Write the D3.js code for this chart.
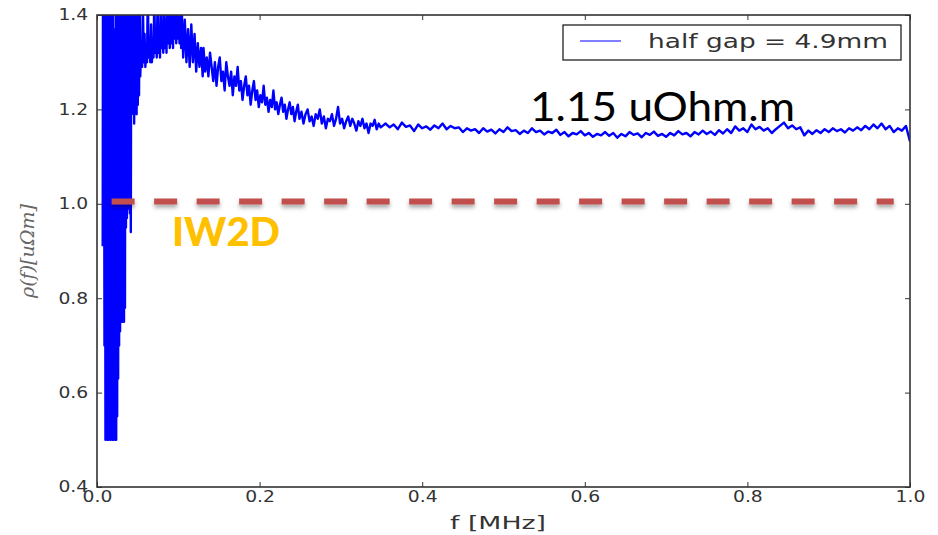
<!DOCTYPE html>
<html><head><meta charset="utf-8">
<script src="https://cdn.jsdelivr.net/npm/d3@7"></script>
<style>body{margin:0;background:#fff}</style>
</head><body>
<svg id="chart" width="938" height="535"></svg>
<script>
// ---------- data ----------
const xTickValues = [0.0, 0.2, 0.4, 0.6, 0.8, 1.0];
const yTickValues = [0.4, 0.6, 0.8, 1.0, 1.2, 1.4];
const xLabel = "f [MHz]";
const yLabel = "ρ(f)[uΩm]";
const seriesName = "half gap = 4.9mm";
const iw2dLevel = 1.005;            // IW2D resistivity [uOhm.m]
const iw2dRange = [0.018, 0.98];    // MHz span of the dashed reference
const iw2dLabel = "IW2D";
const fitLabel = "1.15 uOhm.m";
// [f (MHz), rho (uOhm.m)]
const halfGap49mm = [
 [0.0070,0.91],[0.0074,1.55],[0.0080,0.92],[0.0086,1.50],[0.0092,0.70],[0.0098,1.52],
 [0.0104,0.50],[0.0110,1.48],[0.0116,0.51],[0.0122,1.55],[0.0128,0.50],[0.0134,1.46],
 [0.0140,0.50],[0.0146,1.50],[0.0152,0.52],[0.0158,1.47],[0.0164,0.50],[0.0170,1.53],
 [0.0176,0.51],[0.0182,1.49],[0.0188,0.50],[0.0194,1.52],[0.0200,0.50],[0.0206,1.36],
 [0.0212,0.51],[0.0218,1.37],[0.0224,0.50],[0.0230,1.50],[0.0236,0.50],[0.0242,1.45],
 [0.0248,0.55],[0.0254,1.52],[0.0260,0.63],[0.0266,1.48],[0.0272,0.70],[0.0278,1.50],
 [0.0284,0.73],[0.0290,1.55],[0.0296,0.75],[0.0302,1.47],[0.0308,0.75],[0.0314,1.52],
 [0.0320,0.76],[0.0326,1.50],[0.0332,0.75],[0.0338,1.48],[0.0344,0.78],[0.0350,1.53],
 [0.0356,0.95],[0.0362,1.49],[0.0368,0.97],[0.0374,1.52],[0.0380,0.99],[0.0386,1.46],
 [0.0392,1.01],[0.0398,1.50],[0.0404,0.98],[0.0410,1.48],[0.0416,0.94],[0.0422,1.51],
 [0.0428,1.19],[0.0435,1.50],[0.0442,1.20],[0.0450,1.46],[0.0457,1.17],[0.0465,1.48],
 [0.0472,1.22],[0.0480,1.45],[0.0487,1.19],[0.0495,1.50],[0.0502,1.21],[0.0510,1.44],
 [0.0517,1.23],[0.0525,1.47],[0.0532,1.27],
 [0.0545,1.34],[0.0555,1.29],[0.0565,1.42],[0.0575,1.30],[0.0585,1.36],[0.0595,1.29],
 [0.0605,1.33],[0.0615,1.30],[0.0625,1.45],[0.0635,1.31],[0.0645,1.35],[0.0655,1.30],
 [0.0665,1.38],[0.0675,1.30],[0.0685,1.34],[0.0695,1.31],[0.0705,1.44],[0.0715,1.32],
 [0.0725,1.36],[0.0735,1.31],[0.0745,1.43],[0.0755,1.32],[0.0765,1.37],[0.0775,1.31],
 [0.0785,1.46],[0.0795,1.33],[0.0805,1.38],[0.0815,1.32],[0.0825,1.44],[0.0835,1.33],
 [0.0845,1.39],[0.0855,1.32],[0.0865,1.45],[0.0875,1.34],[0.0885,1.40],[0.0895,1.33],
 [0.0905,1.47],[0.0915,1.34],[0.0925,1.41],[0.0935,1.33],[0.0945,1.44],[0.0955,1.35],
 [0.0965,1.42],[0.0975,1.34],[0.0985,1.45],[0.0995,1.35],[0.1005,1.41],[0.1015,1.34],
 [0.1025,1.43],[0.1035,1.33],[0.1045,1.40],
 [0.106,1.31],[0.108,1.39],[0.110,1.30],[0.112,1.37],[0.114,1.29],[0.116,1.38],
 [0.118,1.30],[0.120,1.36],[0.122,1.28],[0.124,1.34],[0.126,1.29],[0.128,1.33],[0.130,1.27],
 [0.131,1.33],[0.133,1.28],[0.135,1.31],[0.137,1.27],[0.139,1.32],[0.141,1.29],
 [0.143,1.26],[0.145,1.30],[0.147,1.25],[0.149,1.29],[0.151,1.31],[0.153,1.26],
 [0.155,1.28],[0.157,1.24],[0.159,1.30],[0.161,1.27],[0.163,1.25],[0.165,1.28],
 [0.167,1.23],[0.169,1.27],[0.171,1.25],[0.173,1.29],[0.175,1.24],[0.177,1.26],
 [0.179,1.22],[0.181,1.25],[0.183,1.27],[0.185,1.23],[0.187,1.25],[0.189,1.21],
 [0.191,1.24],[0.193,1.26],[0.195,1.22],[0.197,1.24],[0.199,1.205],[0.201,1.23],
 [0.203,1.215],[0.205,1.25],[0.207,1.21],[0.209,1.225],[0.211,1.195],[0.213,1.22],
 [0.215,1.205],[0.217,1.24],[0.219,1.20],[0.221,1.215],[0.223,1.19],[0.225,1.21],
 [0.227,1.225],[0.229,1.195],[0.231,1.21],[0.233,1.18],[0.235,1.20],[0.237,1.215],
 [0.239,1.19],[0.241,1.205],[0.243,1.175],[0.245,1.195],[0.247,1.21],[0.249,1.18],
 [0.2515,1.195],[0.254,1.17],[0.2565,1.19],[0.259,1.20],[0.2615,1.175],[0.264,1.185],
 [0.2665,1.165],[0.269,1.19],[0.2715,1.18],[0.274,1.20],[0.2765,1.17],[0.279,1.185],
 [0.2815,1.16],[0.284,1.18],[0.2865,1.175],[0.289,1.19],[0.2915,1.165],[0.294,1.18],
 [0.2965,1.205],[0.299,1.17],[0.3015,1.18],[0.304,1.16],[0.3065,1.175],[0.309,1.185],
 [0.3115,1.165],[0.314,1.18],[0.3165,1.17],[0.319,1.155],[0.3215,1.175],[0.324,1.165],
 [0.3265,1.18],[0.329,1.16],[0.3315,1.17],[0.334,1.15],[0.3365,1.17],[0.339,1.165],
 [0.3415,1.178],[0.344,1.158],[0.3465,1.17],[0.349,1.162],
 [0.355,1.17],[0.360,1.162],[0.365,1.168],[0.370,1.158],
 [0.375,1.172],[0.380,1.163],[0.385,1.166],[0.390,1.154],[0.395,1.168],[0.400,1.16],
 [0.405,1.164],[0.410,1.157],[0.415,1.166],[0.420,1.16],[0.425,1.17],[0.430,1.158],
 [0.435,1.165],[0.440,1.16],[0.445,1.162],[0.450,1.152],[0.455,1.16],[0.460,1.155],
 [0.465,1.158],[0.470,1.15],[0.475,1.16],[0.480,1.153],[0.485,1.157],[0.490,1.149],
 [0.495,1.158],[0.500,1.152],[0.505,1.162],[0.510,1.154],[0.515,1.156],[0.520,1.148],
 [0.525,1.155],[0.530,1.15],[0.535,1.16],[0.540,1.152],[0.545,1.155],[0.550,1.147],
 [0.555,1.153],[0.560,1.15],[0.565,1.157],[0.570,1.146],[0.575,1.152],[0.580,1.143],
 [0.585,1.15],[0.590,1.147],[0.595,1.154],[0.600,1.145],[0.605,1.15],[0.610,1.142],
 [0.615,1.148],[0.620,1.145],[0.625,1.152],[0.630,1.144],[0.635,1.15],[0.640,1.14],
 [0.645,1.148],[0.650,1.143],[0.655,1.152],[0.660,1.146],[0.665,1.149],[0.670,1.141],
 [0.675,1.15],[0.680,1.146],[0.685,1.153],[0.690,1.144],[0.695,1.148],[0.700,1.142],
 [0.705,1.15],[0.710,1.145],[0.715,1.154],[0.720,1.147],[0.725,1.15],[0.730,1.143],
 [0.735,1.152],[0.740,1.147],[0.745,1.155],[0.750,1.148],[0.755,1.153],[0.760,1.146],
 [0.765,1.156],[0.770,1.149],[0.775,1.158],[0.780,1.15],[0.785,1.164],[0.790,1.155],
 [0.795,1.16],[0.800,1.152],[0.805,1.168],[0.810,1.158],[0.815,1.163],[0.820,1.155],
 [0.825,1.16],[0.830,1.15],[0.835,1.158],[0.840,1.165],[0.845,1.172],[0.850,1.16],
 [0.855,1.166],[0.860,1.158],[0.865,1.162],[0.870,1.145],[0.875,1.155],[0.880,1.148],
 [0.885,1.156],[0.890,1.15],[0.895,1.158],[0.900,1.152],[0.905,1.16],[0.910,1.154],
 [0.915,1.158],[0.920,1.151],[0.925,1.16],[0.930,1.155],[0.935,1.162],[0.940,1.156],
 [0.945,1.165],[0.950,1.158],[0.955,1.168],[0.960,1.16],[0.965,1.17],[0.970,1.158],
 [0.975,1.165],[0.980,1.152],[0.985,1.16],[0.990,1.155],[0.995,1.165],[1.000,1.132]
];

// ---------- layout ----------
const W = 938, H = 535;
const svg = d3.select("#chart");
const plot = {left: 97, right: 910, top: 15, bottom: 487};
const x = d3.scaleLinear().domain([0, 1]).range([plot.left, plot.right]);
const y = d3.scaleLinear().domain([0.4, 1.4]).range([plot.bottom, plot.top]);
const tickFont = "DejaVu Sans, sans-serif";
const axisColor = "#333";
const stretch = 1.25;   // picture is stretched horizontally
const fmt = d3.format(".1f");

const defs = svg.append("defs");
defs.append("clipPath").attr("id", "clip").append("rect")
  .attr("x", plot.left).attr("y", plot.top)
  .attr("width", plot.right - plot.left).attr("height", plot.bottom - plot.top);
const sh = defs.append("filter").attr("id", "shadow").attr("filterUnits", "userSpaceOnUse")
  .attr("x", 0).attr("y", 0).attr("width", W).attr("height", H);
sh.append("feDropShadow").attr("dx", 0).attr("dy", 3).attr("stdDeviation", 2)
  .attr("flood-color", "#000").attr("flood-opacity", 0.35);

// series line
const line = d3.line().x(d => x(d[0])).y(d => y(d[1]));
svg.append("path").datum(halfGap49mm)
  .attr("clip-path", "url(#clip)")
  .attr("fill", "none").attr("stroke", "#0000ff")
  .attr("stroke-width", 2.4).attr("stroke-linejoin", "round")
  .attr("d", line);

// axes
function styleAxis(g, labels) {
  g.select(".domain").remove();
  g.selectAll(".tick line").attr("stroke", axisColor).attr("stroke-width", 1);
  g.selectAll(".tick text").attr("fill", axisColor)
    .attr("transform", `scale(${stretch},1)`)
    .style("font-family", tickFont).style("font-size", "15px");
  if (!labels) g.selectAll(".tick text").remove();
}
svg.append("g").attr("transform", `translate(0,${plot.bottom})`)
  .call(d3.axisBottom(x).tickValues(xTickValues).tickFormat(fmt).tickSizeInner(-5).tickSizeOuter(0).tickPadding(4))
  .call(g => styleAxis(g, true));
svg.append("g").attr("transform", `translate(0,${plot.top})`)
  .call(d3.axisTop(x).tickValues(xTickValues).tickSizeInner(-5).tickSizeOuter(0))
  .call(g => styleAxis(g, false));
svg.append("g").attr("transform", `translate(${plot.left},0)`)
  .call(d3.axisLeft(y).tickValues(yTickValues).tickFormat(fmt).tickSizeInner(-5).tickSizeOuter(0).tickPadding(7))
  .call(g => styleAxis(g, true));
svg.append("g").attr("transform", `translate(${plot.right},0)`)
  .call(d3.axisRight(y).tickValues(yTickValues).tickSizeInner(-5).tickSizeOuter(0))
  .call(g => styleAxis(g, false));

// frame
svg.append("rect").attr("x", plot.left).attr("y", plot.top)
  .attr("width", plot.right - plot.left).attr("height", plot.bottom - plot.top)
  .attr("fill", "none").attr("stroke", axisColor).attr("stroke-width", 1.6);

// axis labels
svg.append("text").attr("x", 498).attr("y", 529)
  .attr("text-anchor", "middle").attr("fill", axisColor)
  .attr("textLength", 96).attr("lengthAdjust", "spacingAndGlyphs")
  .style("font-family", tickFont).style("font-size", "18px").text(xLabel);
svg.append("text")
  .attr("transform", `translate(34,${(plot.top + plot.bottom) / 2}) rotate(-90)`)
  .attr("text-anchor", "middle").attr("fill", "#666")
  .attr("textLength", 94).attr("lengthAdjust", "spacingAndGlyphs")
  .style("font-family", "DejaVu Serif, serif").style("font-style", "italic")
  .style("font-size", "18px").text(yLabel);

// legend
const lg = svg.append("g");
lg.append("rect").attr("x", 563).attr("y", 25).attr("width", 338).attr("height", 35)
  .attr("fill", "#fff").attr("stroke", "#222").attr("stroke-width", 1.3);
lg.append("line").attr("x1", 580).attr("x2", 621).attr("y1", 41).attr("y2", 41)
  .attr("stroke", "#0000ff").attr("stroke-width", 1.2);
lg.append("text").attr("x", 648).attr("y", 48).attr("fill", axisColor)
  .attr("textLength", 240).attr("lengthAdjust", "spacingAndGlyphs")
  .style("font-family", tickFont).style("font-size", "19px").text(seriesName);

// IW2D reference line
svg.append("line")
  .attr("x1", x(iw2dRange[0])).attr("x2", x(iw2dRange[1]))
  .attr("y1", y(iw2dLevel)).attr("y2", y(iw2dLevel))
  .attr("stroke", "#C0504D").attr("stroke-width", 6)
  .attr("stroke-dasharray", "23,19.5").attr("filter", "url(#shadow)");

// annotations
svg.append("text").attr("x", 172).attr("y", 246).attr("fill", "#FFC000")
  .attr("textLength", 108).attr("lengthAdjust", "spacingAndGlyphs")
  .style("font-family", "Lato, 'Open Sans', sans-serif").style("font-weight", "900")
  .style("font-size", "39px").text(iw2dLabel);
svg.append("text").attr("x", 530).attr("y", 121).attr("fill", "#000")
  .attr("textLength", 265).attr("lengthAdjust", "spacingAndGlyphs")
  .style("font-family", "Lato, 'Open Sans', sans-serif")
  .style("font-size", "40px").text(fitLabel);
</script>
</body></html>
